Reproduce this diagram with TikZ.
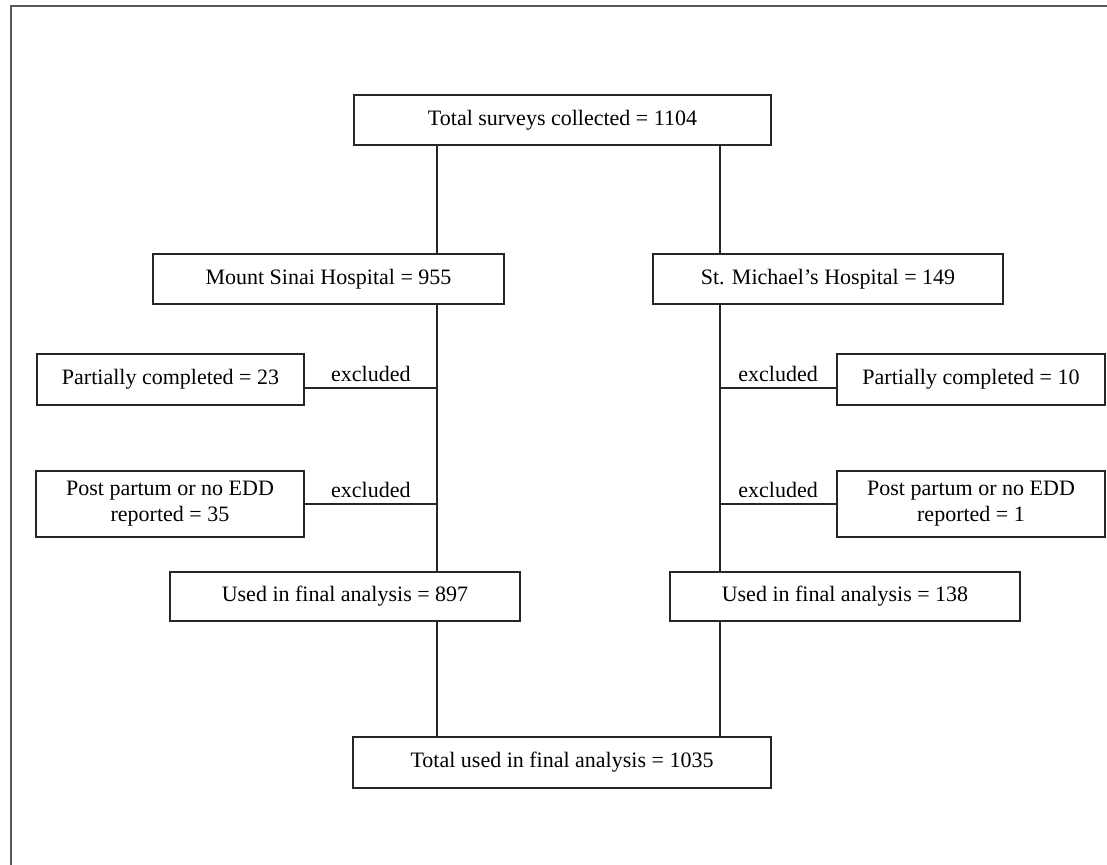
\documentclass[tikz,border=0pt]{standalone}
\usepackage{fontspec}
\setmainfont{Liberation Serif}
\usetikzlibrary{positioning}
\tikzset{>=latex}

\begin{document}
\begin{tikzpicture}[x=0.5pt, y=-0.5pt,
        box/.style={draw=black!85, line width=0.8pt, minimum height=25pt, inner sep=2pt, align=center, font=\fontsize{11}{13}\selectfont},
        link/.style={draw=black!85, line width=0.8pt},
        cut/.style={above, inner sep=2.5pt, font=\fontsize{11}{13}\selectfont}]
            \useasboundingbox (0,0) rectangle (1107,865);
            \draw [black!65, line width=0.6pt] (11,865) -- (11,6) -- (1107,6);
            \node [box, minimum width=208.5pt] (Total) at (562.5,120) {Total surveys collected = 1104};
            \node [box, minimum width=175.5pt] (Sinai) at (328.5,279) {Mount Sinai Hospital = 955};
            \node [box, minimum width=175pt] (Michael) at (828,279) {St. Michael’s Hospital = 149};
            \node [box, minimum width=133.5pt, minimum height=25.5pt] (PartS) at (170.5,379.5) {Partially completed = 23};
            \node [box, minimum width=134pt, minimum height=33pt] (PostS) at (170,504) {Post partum or no EDD\\reported = 35};
            \node [box, minimum width=134pt, minimum height=25.5pt] (PartM) at (971,379.5) {Partially completed = 10};
            \node [box, minimum width=134pt, minimum height=33pt] (PostM) at (971,504) {Post partum or no EDD\\reported = 1};
            \node [box, minimum width=175pt, minimum height=24.5pt] (UsedS) at (345,596.5) {Used in final analysis = 897};
            \node [box, minimum width=175pt, minimum height=24.5pt] (UsedM) at (845,596.5) {Used in final analysis = 138};
            \node [box, minimum width=209pt, minimum height=25.5pt] (Final) at (562,762.5) {Total used in final analysis = 1035};
            \coordinate (TrunkS) at (437,0);
            \coordinate (TrunkM) at (720,0);
            \coordinate (CutS) at (437,388);
            \coordinate (CutM) at (720,388);
            \draw [link] (Total.south -| TrunkS) -- (Sinai.north -| TrunkS);
            \draw [link] (Total.south -| TrunkM) -- (Michael.north -| TrunkM);
            \draw [link] (Sinai.south -| TrunkS) -- (UsedS.north -| TrunkS);
            \draw [link] (Michael.south -| TrunkM) -- (UsedM.north -| TrunkM);
            \draw [link] (UsedS.south -| TrunkS) -- (Final.north -| TrunkS);
            \draw [link] (UsedM.south -| TrunkM) -- (Final.north -| TrunkM);
            \draw [link] (PartS.east |- CutS) -- (CutS) node [cut, midway] {excluded};
            \draw [link] (PostS.east) -- (PostS.east -| TrunkS) node [cut, midway] {excluded};
            \draw [link] (CutM) -- (PartM.west |- CutM) node [cut, midway] {excluded};
            \draw [link] (PostM.west -| TrunkM) -- (PostM.west) node [cut, midway] {excluded};
        \end{tikzpicture}
\end{document}
